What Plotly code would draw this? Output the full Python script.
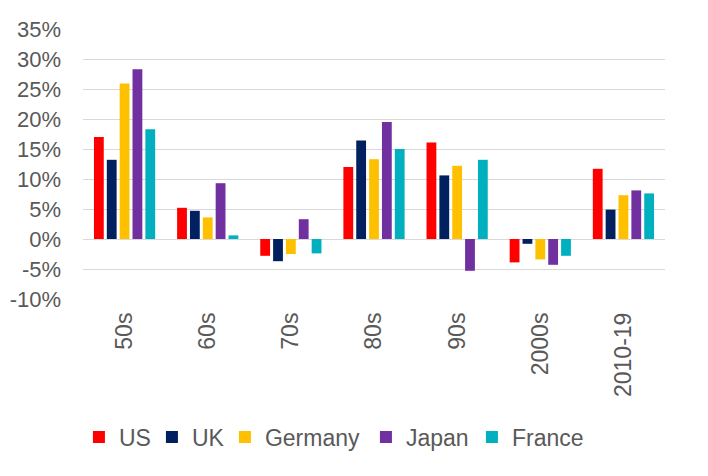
import plotly.graph_objects as go

categories = ["50s", "60s", "70s", "80s", "90s", "2000s", "2010-19"]
us = [17.0, 5.2, -2.8, 12.0, 16.1, -3.9, 11.7]
uk = [13.2, 4.7, -3.7, 16.4, 10.6, -0.8, 4.9]
germany = [25.9, 3.6, -2.5, 13.3, 12.2, -3.4, 7.3]
japan = [28.3, 9.3, 3.3, 19.5, -5.3, -4.3, 8.1]
france = [18.3, 0.6, -2.4, 15.0, 13.2, -2.8, 7.6]
y_tick_values = [-10, -5, 0, 5, 10, 15, 20, 25, 30, 35]
y_tick_labels = ["-10%", "-5%", "0%", "5%", "10%", "15%", "20%", "25%", "30%", "35%"]

series = [
    ("US", us, "#FF0000", 28),
    ("UK", uk, "#002060", 28),
    ("Germany", germany, "#FFC000", 96),
    ("Japan", japan, "#7030A0", 61),
    ("France", france, "#00B0BE", 80),
]

fig = go.Figure()
for name, vals, color, lw in series:
    fig.add_trace(go.Bar(
        x=categories, y=vals, name=name,
        marker=dict(color=color, line=dict(width=0)),
        legendwidth=lw,
    ))

font = "Liberation Sans, Arial, sans-serif"
grey = "#595959"
fig.update_layout(
    width=700, height=468,
    margin=dict(l=75, r=43, t=21, b=177, autoexpand=False),
    paper_bgcolor="white", plot_bgcolor="white",
    barmode="group", bargap=0.227, bargroupgap=0.237,
    font=dict(family=font, size=23, color=grey),
    showlegend=True,
    legend=dict(orientation="h", x=-0.007, xanchor="left", y=-0.511, yanchor="middle",
                font=dict(family=font, size=23, color=grey), itemwidth=30,
                bgcolor="rgba(0,0,0,0)"),
    xaxis=dict(tickangle=-90, showgrid=False, showline=False, ticks="", automargin=False,
               ticklabelstandoff=8, tickfont=dict(size=23, color=grey)),
    yaxis=dict(range=[-10, 35], tickvals=y_tick_values, ticktext=y_tick_labels,
               showgrid=True, gridcolor="#D9D9D9", gridwidth=1, automargin=False,
               zeroline=True, zerolinecolor="#D9D9D9", zerolinewidth=1,
               showline=False, ticks="", ticklabelstandoff=21,
               tickfont=dict(size=22, color=grey)),
)

fig.write_html("out.html")
